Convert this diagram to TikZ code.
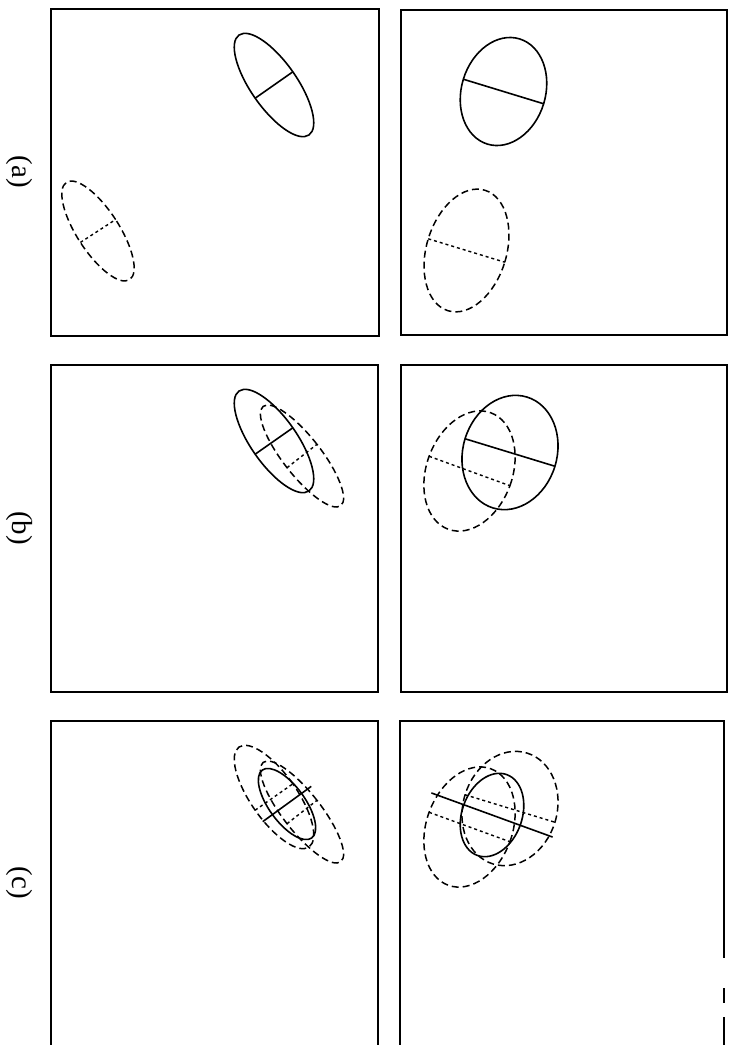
\documentclass[tikz,border=0pt]{standalone}
\usepackage{fontspec}
\setmainfont{Liberation Serif}
\usepackage{tikz}

\begin{document}
\begin{tikzpicture}[x=1pt, y=-1pt,
  frame/.style={line width=1.2pt},
  estell/.style={line width=1.6pt},
  priorell/.style={line width=1.5pt, dash pattern=on 7pt off 4pt},
  prioraxis/.style={line width=1.4pt, dash pattern=on 3pt off 3pt},
  rowlabel/.style={font=\fontsize{29}{31}\selectfont, rotate=-90}]
  \useasboundingbox (0,0) rectangle (731,1045);
  % panel frames
  \draw[frame] (51,9) rectangle (379,336);
  \draw[frame] (401,10) rectangle (727,335);
  \draw[frame] (51,365) rectangle (378,692);
  \draw[frame] (401,365) rectangle (727,692);
  \draw[frame] (51,1045) |- (378,721) -- (378,1045);
  \draw[frame] (400,1045) |- (724,721) -- (724,958);
  \draw[line width=2.5pt] (724,988) -- (724,1003);
  \draw[frame] (724,1017) -- (724,1045);
  % row labels
  \node[rowlabel] (laba) at (19,172) {(a)};
  \node[rowlabel] (labb) at (19,528) {(b)};
  \node[rowlabel] (labc) at (19,883) {(c)};
  % row (a)
  \begin{scope}[shift={(274,85)}, rotate=35]
    \draw[estell] (0,0) ellipse [x radius=23pt, y radius=61pt];
    \draw[estell] (-23,0) -- (23,0);
  \end{scope}
  \begin{scope}[shift={(98,231)}, rotate=33]
    \draw[priorell] (0,0) ellipse [x radius=21pt, y radius=58pt];
    \draw[prioraxis] (-21,0) -- (21,0);
  \end{scope}
  \begin{scope}[shift={(503.5,91.5)}, rotate=-17]
    \draw[estell] (0,0) ellipse [x radius=42pt, y radius=55pt];
    \draw[estell] (-42,0) -- (42,0);
  \end{scope}
  \begin{scope}[shift={(466.5,250.5)}, rotate=-17]
    \draw[priorell] (0,0) ellipse [x radius=40pt, y radius=63pt];
    \draw[prioraxis] (-40,0) -- (40,0);
  \end{scope}
  % row (b)
  \begin{scope}[shift={(274,441)}, rotate=35]
    \draw[estell] (0,0) ellipse [x radius=23pt, y radius=61pt];
    \draw[estell] (-23,0) -- (23,0);
  \end{scope}
  \begin{scope}[shift={(302,456)}, rotate=38]
    \draw[priorell] (0,0) ellipse [x radius=19pt, y radius=63pt];
    \draw[prioraxis] (-19,0) -- (19,0);
  \end{scope}
  \begin{scope}[shift={(510,452.5)}, rotate=-17]
    \draw[estell] (0,0) ellipse [x radius=47pt, y radius=58pt];
    \draw[estell] (-47,0) -- (47,0);
  \end{scope}
  \begin{scope}[shift={(469.5,471)}, rotate=-20]
    \draw[priorell] (0,0) ellipse [x radius=43pt, y radius=62pt];
    \draw[prioraxis] (-43,0) -- (43,0);
  \end{scope}
  % row (c)
  \begin{scope}[shift={(274,797)}, rotate=35]
    \draw[priorell] (0,0) ellipse [x radius=23pt, y radius=61pt];
    \draw[prioraxis] (-23,0) -- (23,0);
  \end{scope}
  \begin{scope}[shift={(302,812)}, rotate=38]
    \draw[priorell] (0,0) ellipse [x radius=19pt, y radius=63pt];
    \draw[prioraxis] (-19,0) -- (19,0);
  \end{scope}
  \begin{scope}[shift={(287,804)}, rotate=36]
    \draw[estell] (0,0) ellipse [x radius=18pt, y radius=42pt];
    \draw[estell] (-30,0) -- (30,0);
  \end{scope}
  \begin{scope}[shift={(510,808.5)}, rotate=-17]
    \draw[priorell] (0,0) ellipse [x radius=47pt, y radius=58pt];
    \draw[prioraxis] (-47,0) -- (47,0);
  \end{scope}
  \begin{scope}[shift={(469.5,827)}, rotate=-20]
    \draw[priorell] (0,0) ellipse [x radius=43pt, y radius=62pt];
    \draw[prioraxis] (-43,0) -- (43,0);
  \end{scope}
  \begin{scope}[shift={(492,815)}, rotate=-20]
    \draw[estell] (0,0) ellipse [x radius=30pt, y radius=43pt];
    \draw[estell] (-64.5,0) -- (64.5,0);
  \end{scope}
\end{tikzpicture}
\end{document}
